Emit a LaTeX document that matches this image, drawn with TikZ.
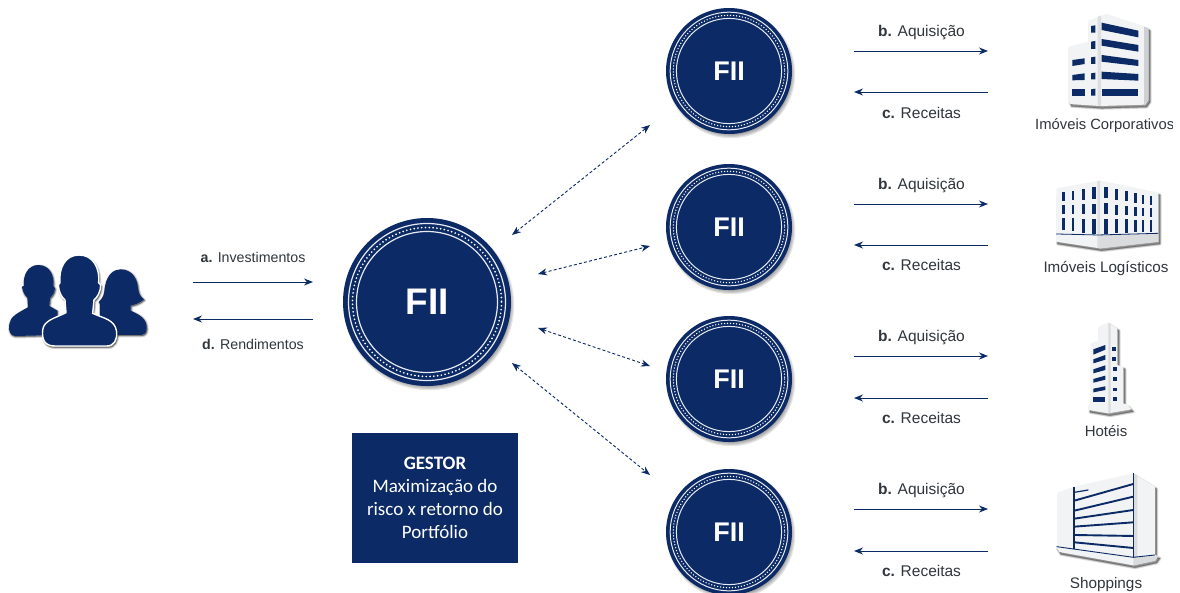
\documentclass[tikz,border=0pt]{standalone}
\usepackage{fontspec}
\setmainfont{Liberation Sans}
\newfontfamily\gestorfont{Carlito}
\usetikzlibrary{arrows.meta}
\definecolor{navy}{HTML}{0B2A66}
\definecolor{wall}{HTML}{F2F3F4}
\definecolor{wallside}{HTML}{CFD0D3}
\definecolor{lbl}{HTML}{30363C}
\newcommand{\softpath}[1]{\foreach \w in {3,1.5,0.4}{\filldraw[black,opacity=.14,line width=\w pt,line join=round] #1;}}
\newcommand{\softdisc}[3]{\foreach \w in {-4,-2,0,2}{\fill[black,opacity=.10] (#1+2,#2+3) circle ({#3+\w*0.6});}}
\tikzset{
 x=1pt,y=-1pt,
 flow/.style={navy,line width=1pt,-{Stealth[length=9pt,width=7pt]}},
 link/.style={navy,line width=.9pt,dash pattern=on 3pt off 2.2pt,{Stealth[length=9pt,width=7pt]}-{Stealth[length=9pt,width=7pt]}},
 lab/.style={text=lbl,font=\fontsize{15.5}{17}\selectfont,inner sep=0pt,anchor=center},
 labsm/.style={lab,font=\fontsize{14.2}{16}\selectfont},
 fiibig/.style={circle,fill=navy,inner sep=0pt,minimum size=168pt,text=white,font=\fontsize{37}{38}\selectfont\bfseries,
  path picture={\coordinate (c) at (path picture bounding box.center);
   \draw[white!90!navy,line width=1.2pt] (c) circle (78.5);
   \draw[white!90!navy,line width=1.2pt] (c) circle (70.5);
   \draw[white,line width=1.9pt,line cap=round,dash pattern=on 0pt off 3.8pt] (c) circle (74.5);}},
 fiismall/.style={circle,fill=navy,inner sep=0pt,minimum size=126pt,text=white,font=\fontsize{27}{28}\selectfont\bfseries,
  path picture={\coordinate (c) at (path picture bounding box.center);
   \draw[white!90!navy,line width=1pt] (c) circle (58.8);
   \draw[white!90!navy,line width=1pt] (c) circle (52.6);
   \draw[white,line width=1.5pt,line cap=round,dash pattern=on 0pt off 3pt] (c) circle (55.7);}},
 gestorbox/.style={fill=navy,text=white,inner sep=0pt,minimum width=166pt,minimum height=130pt,align=center,
  font=\gestorfont\fontsize{19}{23}\selectfont},
 win/.style={fill=navy},
}
\begin{document}
\begin{tikzpicture}
\useasboundingbox (0,0) rectangle (1180,592);
\fill[white] (0,0) rectangle (1180,592);

% people
\begin{scope}[shift={(0,220)},x=.3333pt,y=-.3333pt]
\def\pL{(115,135) .. controls (148,135) and (163,165) .. (160,198) -- (165,205) .. controls (163,222) and (155,228) .. (150,235) -- (148,258) -- (172,272) -- (172,345) -- (45,348) .. controls (28,345) and (25,330) .. (28,312) .. controls (30,290) and (55,278) .. (84,262) -- (82,232) .. controls (75,228) and (68,215) .. (66,200) -- (72,198) .. controls (68,165) and (85,135) .. (115,135) -- cycle}
\def\pR{(362,148) .. controls (395,148) and (412,175) .. (414,205) .. controls (416,225) and (425,232) .. (432,238) .. controls (420,250) and (400,255) .. (392,257) -- (392,272) .. controls (420,285) and (440,295) .. (440,325) .. controls (440,340) and (432,345) .. (420,345) -- (300,345) -- (300,250) .. controls (292,248) and (300,242) .. (305,236) .. controls (315,222) and (312,210) .. (316,195) .. controls (322,165) and (340,148) .. (362,148) -- cycle}
\def\pC{(237,105) .. controls (280,105) and (300,145) .. (296,188) -- (302,195) .. controls (302,215) and (292,232) .. (282,240) -- (278,280) .. controls (310,295) and (345,298) .. (350,335) .. controls (352,360) and (342,378) .. (320,378) -- (165,378) .. controls (135,378) and (125,360) .. (128,330) .. controls (132,300) and (165,295) .. (198,278) -- (195,240) .. controls (185,232) and (176,215) .. (175,195) -- (180,188) .. controls (176,145) and (195,105) .. (237,105) -- cycle}
\softpath{[shift={(2,3)}] \pL}
\softpath{[shift={(2,3)}] \pR}
\fill[navy] \pL;
\fill[navy] \pR;
\softpath{[shift={(3,5)}] \pC}
\filldraw[navy,draw=white,line width=1.4pt] \pC;
\end{scope}

% central hub and funds
\softdisc{427}{302}{84}
\node[fiibig] (hub) at (427,302) {FII};
\foreach \n/\y in {1/71,2/227,3/379,4/532}{
 \softdisc{729}{\y}{63}
 \node[fiismall] (fii\n) at (729,\y) {FII};
}

% gestor
\node[gestorbox] (gestor) at (435,498) {\textbf{GESTOR}\\Maximização do\\risco x retorno do\\Portfólio};

% investor flows
\node[labsm] (lbla) at (253,257) {\textbf{a.} Investimentos};
\node[labsm] (lbld) at (253,344) {\textbf{d.} Rendimentos};
\coordinate (a1) at (193,282); \coordinate (a2) at (313,282);
\coordinate (d1) at (313,319); \coordinate (d2) at (193,319);
\draw[flow] (a1) -- (a2);
\draw[flow] (d1) -- (d2);

% dashed links
\coordinate (h1) at (512,235); \coordinate (f1) at (650,125);
\coordinate (h2) at (538,274); \coordinate (f2) at (650,246);
\coordinate (h3) at (538,328); \coordinate (f3) at (650,366);
\coordinate (h4) at (512,363); \coordinate (f4) at (650,475);
\foreach \n in {1,2,3,4}{\draw[link] (h\n) -- (f\n);}

% acquisition / revenue rows
\foreach \n/\yb/\yc/\lb/\lc in {1/51/92/33/113,2/204/245/186/265,3/356/398/338/418,4/509/551/491/571}{
 \coordinate (b\n s) at (854,\yb); \coordinate (b\n e) at (988,\yb);
 \coordinate (c\n s) at (988,\yc); \coordinate (c\n e) at (854,\yc);
 \draw[flow] (b\n s) -- (b\n e);
 \draw[flow] (c\n s) -- (c\n e);
 \node[lab] (lblb\n) at (921.5,\lb) {\textbf{b.} Aquisição};
 \node[lab] (lblc\n) at (921.5,\lc) {\textbf{c.} Receitas};
}

% building 1
\begin{scope}[shift={(1020,0)},x=.3333pt,y=-.3333pt]
\def\shape{(205,62) -- (258,42) -- (375,80) -- (385,85) -- (385,300) -- (375,314) -- (240,318) -- (150,312) -- (145,300) -- (145,140) -- (205,125) -- cycle}
\softpath{[shift={(5,7)}] \shape}
\fill[wall] \shape;
\fill[wallside] (372,80) -- (385,85) -- (385,300) -- (372,314) -- cycle;
\fill[wallside!60!wall] (233,50) -- (243,47) -- (243,318) -- (233,318) -- cycle;
\foreach \ya/\yb/\yc/\yd in {68/92/112/90,117/135/155/137,165/180/198/185,215/222/242/237,268/268/288/288}{
 \fill[win] (245,\ya) -- (355,\yb) -- (355,\yc) -- (245,\yd) -- cycle;}
\foreach \ya/\yb in {78/98,125/147,172/192,220/238,268/287}{
 \fill[win] (213,\ya) -- (226,\ya-2) -- (226,\yb) -- (213,\yb) -- cycle;}
\foreach \ya/\yb/\yc/\yd in {180/175/192/198,225/220/240/241,268/268/288/288}{
 \fill[win] (157,\ya) -- (194,\yb) -- (194,\yc) -- (157,\yd) -- cycle;}
\end{scope}
\node[lab,anchor=west,font=\fontsize{14.8}{16}\selectfont] (lbl1) at (1035,126) {Imóveis Corporativos};
\fill[white] (1172.5,115) rectangle (1180,137);

% building 2
\begin{scope}[shift={(1020,0)},x=.3333pt,y=-.3333pt]
\def\shape{(110,565) -- (240,542) -- (415,578) -- (415,725) -- (240,745) -- (108,725) -- (108,700) -- cycle}
\softpath{[shift={(5,7)}] \shape}
\fill[wall] \shape;
\fill[wallside!70!wall] (240,705) -- (415,700) -- (415,725) -- (240,745) -- cycle;
\fill[wallside!60!wall] (232,543) -- (240,542) -- (240,745) -- (232,743) -- cycle;
\foreach \x/\t/\b/\w in {127/576/690/7,155/572/694/8,185/568/698/9,217/562/702/11,252/561/702/11,285/568/700/9,315/574/698/8,343/580/697/7,367/585/696/6,390/588/695/5}{
 \pgfmathsetmacro{\rone}{\t+(\b-\t)*.24}
 \pgfmathsetmacro{\rtwo}{\t+(\b-\t)*.35}
 \pgfmathsetmacro{\rthr}{\t+(\b-\t)*.58}
 \pgfmathsetmacro{\rfou}{\t+(\b-\t)*.68}
 \pgfmathsetmacro{\xr}{\x+\w}
 \fill[win] (\x,\t) rectangle (\xr,\rone);
 \fill[win] (\x,\rtwo) rectangle (\xr,\rthr);
 \fill[win] (\x,\rfou) rectangle (\xr,\b);
}
\draw[navy,line width=.8pt] (108,702) -- (235,705) -- (415,700);
\end{scope}
\node[lab,font=\fontsize{15.2}{17}\selectfont] (lbl2) at (1106,268) {Imóveis Logísticos};

% building 3
\begin{scope}[shift={(1020,310)},x=.3333pt,y=-.3333pt]
\def\shape{(235,50) -- (265,38) -- (292,55) -- (292,165) -- (310,170) -- (310,280) -- (322,285) -- (335,298) -- (265,310) -- (205,300) -- (205,285) -- (212,280) -- (212,100) -- (235,92) -- cycle}
\softpath{[shift={(5,7)}] \shape}
\fill[wall] \shape;
\fill[wallside!70!wall] (265,38) -- (272,42) -- (272,308) -- (265,310) -- cycle;
\foreach \a/\b/\c/\d in {118/105/119/134,148/135/149/160,178/166/180/190,207/197/209/218,236/229/240/247,262/262/275/275}{
 \fill[win] (220,\a) -- (256,\b) -- (256,\c) -- (220,\d) -- cycle;}
\foreach \x/\a/\b in {277/110/122,277/140/152,280/170/182,280/202/214,280/233/243,280/262/273}{
 \fill[win] (\x,\a) rectangle (\x+10,\b);}
\end{scope}
\node[lab,font=\fontsize{15}{17}\selectfont] (lbl3) at (1106,431) {Hotéis};

% building 4
\begin{scope}[shift={(1020,310)},x=.3333pt,y=-.3333pt]
\def\shape{(112,548) -- (162,530) -- (340,490) -- (405,530) -- (405,735) -- (415,738) -- (405,752) -- (340,766) -- (118,726) -- (108,710) -- (112,705) -- cycle}
\softpath{[shift={(5,7)}] \shape}
\fill[wall] \shape;
\fill[wallside!70!wall] (340,490) -- (352,497) -- (352,742) -- (340,742) -- cycle;
\fill[wallside!70!wall] (340,742) -- (415,738) -- (405,752) -- (340,766) -- cycle;
\foreach \l/\r in {572/522,602/560,626/600,650/637,675/678,697/714}{
 \draw[navy,line width=1.9pt] (163,\l) -- (340,\r);}
\draw[navy,line width=1.2pt] (163,547) -- (205,540);
\draw[navy,line width=1.2pt] (162,532) -- (162,716);
\draw[navy,line width=1.2pt] (340,490) -- (340,742);
\draw[navy,line width=.9pt] (110,710) -- (340,742) -- (405,735);
\end{scope}
\node[lab,font=\fontsize{15.3}{17}\selectfont] (lbl4) at (1106,585) {Shoppings};
\end{tikzpicture}
\end{document}
